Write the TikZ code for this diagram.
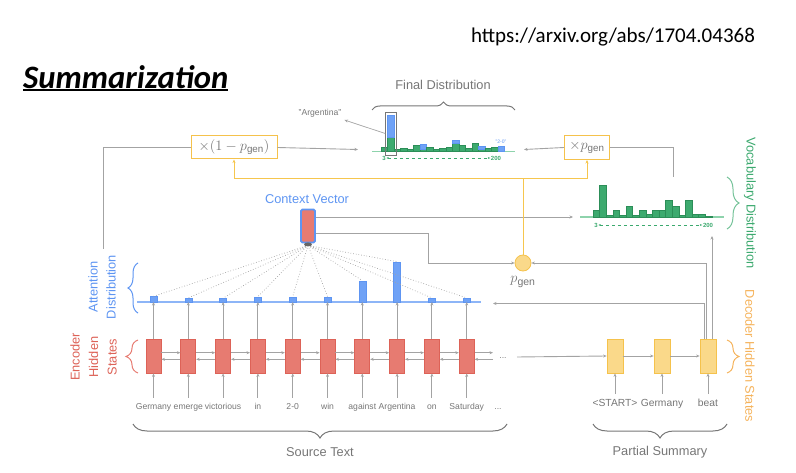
\documentclass[tikz,border=0pt]{standalone}
\usepackage{fontspec}
\setmainfont{Liberation Sans}
\newfontfamily\calfont{Carlito}
\usetikzlibrary{arrows.meta,decorations.pathreplacing,calc}
\definecolor{linegray}{HTML}{A3A3A3}
\definecolor{tgray}{HTML}{767676}
\definecolor{bluet}{HTML}{5E95F2}
\definecolor{bluebar}{HTML}{6FA2F6}
\definecolor{blueline}{HTML}{8DB5F7}
\definecolor{redfill}{HTML}{E77B71}
\definecolor{redborder}{HTML}{DD6257}
\definecolor{greenc}{HTML}{3BA96E}
\definecolor{greenbar}{HTML}{3DAA6F}
\definecolor{greenedge}{HTML}{2C8E58}
\definecolor{greenline}{HTML}{8ED3AC}
\definecolor{yfill}{HTML}{FAD98A}
\definecolor{yborder}{HTML}{F5C24C}
\definecolor{orangetxt}{HTML}{F5B35C}
\definecolor{oline}{HTML}{F6C64E}
\begin{document}
\begin{tikzpicture}[x=1pt,y=-1pt,
  conn/.style={draw=linegray, line width=0.9pt},
  arr/.style={conn, -{Stealth[length=3.5pt,width=3pt]}},
  oarr/.style={draw=oline, line width=1pt, -{Stealth[length=3.5pt,width=3pt]}},
  oconn/.style={draw=oline, line width=1pt},
  encbox/.style={draw=redborder, fill=redfill, minimum width=15pt, minimum height=34pt, inner sep=0pt, line width=0.8pt},
  decbox/.style={draw=yborder, fill=yfill, minimum width=16pt, minimum height=34pt, inner sep=0pt, line width=0.8pt},
  word/.style={text=tgray, font=\fontsize{8.6}{10}\selectfont, inner sep=0pt, text height=6.2pt, text depth=1.8pt},
  dword/.style={text=tgray, font=\fontsize{10.3}{12}\selectfont, inner sep=0pt, text height=7.4pt, text depth=2pt},
  lbl/.style={font=\fontsize{12.8}{14}\selectfont, inner sep=0pt},
  brc/.style={decorate, decoration={brace, amplitude=#1}, line width=1pt},
  attbar/.style={fill=bluebar, draw=bluet, line width=0.4pt, minimum width=7pt, inner sep=0pt, anchor=south},
  axl/.style={text=greenc, font=\fontsize{6}{7}\selectfont\bfseries, inner sep=0.5pt},
  mbox/.style={draw=yborder, line width=1pt, fill=white, text=tgray, inner sep=0pt}
]
\useasboundingbox (0,0) rectangle (796,473);

% header
\node[font=\calfont\fontsize{21}{24}\selectfont, inner sep=0pt] (url) at (613,37) {https://arxiv.org/abs/1704.04368};
\node[font=\calfont\fontsize{32.7}{36}\selectfont\bfseries\itshape, inner sep=0pt, anchor=west] (title) at (23,77) {Summarization};
\draw[line width=1.3pt] (23,90) -- (228,90);

% ---------- encoder ----------
\foreach \i in {0,...,9} {
  \node[encbox] (e\i) at ({153.5+34.8*\i},356) {};
}
\foreach \w [count=\i from 0] in {Germany,emerge,victorious,in,2-0,win,against,Argentina,on,Saturday} {
  \node[word] (w\i) at ({153.5+34.8*\i},407) {\w};
  \draw[arr] ([yshift=5pt]w\i.north) -- (e\i.south);
}
\node[word] (wdots) at (498,407) {...};
\foreach \i [evaluate=\i as \j using int(\i+1)] in {0,...,8} {
  \draw[arr] ([yshift=3.3pt]e\i.east) -- ([yshift=3.3pt]e\j.west);
  \draw[arr] ([yshift=-3.3pt]e\j.west) -- ([yshift=-3.3pt]e\i.east);
}
\coordinate (encR1) at (493,352.7);
\coordinate (encR2) at (493,359.3);
\draw[arr] ([yshift=3.3pt]e9.east) -- (encR1);
\draw[arr] (encR2) -- ([yshift=-3.3pt]e9.east);
\node[word] (edots) at (503,356) {...};

% ---------- attention ----------
\draw[blueline, line width=1.2pt] (137,302) -- (481,302);
\foreach \h [count=\i from 0] in {5.3,3.7,3.3,5,5,5,21,40,3.7,3.7} {
  \node[attbar, minimum height=\h pt] (a\i) at ({153.5+34.8*\i},302) {};
  \draw[arr] (e\i.north) -- (a\i.south);
}

% ---------- context vector ----------
\node[draw=bluet, fill=redfill, line width=1.8pt, rounded corners=1.5pt, minimum width=14pt, minimum height=33pt, inner sep=0pt] (ctx) at (308,226) {};
\node[lbl, text=bluet] (ctxlbl) at (307,199) {Context Vector};
\foreach \i in {0,...,9} {
  \draw[linegray, dotted, line width=0.7pt] ([yshift=-2pt]ctx.south) -- (a\i.north);
}
\fill[gray!80!black] ([yshift=-1pt]ctx.south) ellipse (4pt and 2pt);

% ---------- decoder ----------
\node[decbox] (d0) at (615,356) {};
\node[decbox] (d1) at (662,356) {};
\node[decbox] (d2) at (708,356) {};
\node[dword] (dw0) at (615,404) {<START>};
\node[dword] (dw1) at (662,404) {Germany};
\node[dword] (dw2) at (708,404) {beat};
\foreach \i in {0,1,2} { \draw[arr] ([yshift=5pt]dw\i.north) -- (d\i.south); }
\coordinate (decin) at (517,357);
\draw[arr] (decin) -- (d0.west);
\draw[arr] (d0) -- (d1.west);
\draw[arr] (d1) -- (d2.west);

% ---------- p_gen ----------
\node[circle, draw=yborder, fill=yfill, line width=0.8pt, minimum size=16pt, inner sep=0pt] (pgen) at (523,263) {};
\node[text=tgray, font=\fontsize{15}{17}\selectfont, inner sep=0pt] (pgenlbl) at (523,282) {$p_{\mathrm{gen}}$};

% ---------- vocabulary distribution ----------
\draw[greenline, line width=1.2pt] (580,217) -- (724,217);
\foreach \h [count=\i from 0] in {7,32,2,7,2,11,2,7,3,7,7,17,11,2,17,3,3,1} {
  \fill[greenbar] ({593+6.6*\i},217) rectangle ++(6.6,-\h);
  \draw[greenedge, line width=0.4pt] ({593+6.6*\i},217) rectangle ++(6.6,-\h);
}
\node[axl] (v3) at (596,225) {3};
\node[axl] (v200) at (708,225) {200};
\draw[greenc, dashed, line width=0.8pt, {Stealth[length=2.5pt]}-{Stealth[length=2.5pt]}] (v3.east) -- (v200.west);
\coordinate (vocin) at (573,217);
\coordinate (vocbot) at (712,236);
\coordinate (voctop) at (673,177);

% ---------- final distribution ----------
\draw[greenline, line width=1.2pt] (372,151.7) -- (515,151.7);
\foreach \g/\b [count=\i from 0] in {4/0,14.7/22,2/0,3/0,2/0,6/0,2/5.4,4/0,2/0,3/0,4/0,8/3.7,6/0,3/0,8/0,2/3.7,3/0,4/0,0/5} {
  \pgfmathsetmacro{\xx}{381+6.5*\i}
  \ifdim\g pt>0pt
    \fill[greenbar] (\xx,151.7) rectangle ++(6.5,-\g);
    \draw[greenedge, line width=0.4pt] (\xx,151.7) rectangle ++(6.5,-\g);
  \fi
  \ifdim\b pt>0pt
    \fill[bluebar] (\xx,151.7-\g) rectangle ++(6.5,-\b);
    \draw[bluet, line width=0.4pt] (\xx,151.7-\g) rectangle ++(6.5,-\b);
  \fi
}
\node[draw=tgray, line width=0.6pt, minimum width=11pt, minimum height=43pt, inner sep=0pt] (argbox) at (391,133.5) {};
\node[text=tgray, font=\fontsize{8.6}{10}\selectfont, inner sep=0pt] (arglbl) at (320,113) {"Argentina"};
\draw[arr, line width=0.7pt] (argbox.west) -- ([xshift=3pt,yshift=-7pt]arglbl.east);
\node[text=bluet, font=\fontsize{5}{6}\selectfont, inner sep=0pt] (twozero) at (501,141.5) {"2-0"};
\node[axl] (f3) at (384,158) {3};
\node[axl] (f200) at (496,158) {200};
\draw[greenc, dashed, line width=0.8pt, {Stealth[length=2.5pt]}-{Stealth[length=2.5pt]}] (f3.east) -- (f200.west);
\node[lbl, text=tgray] (fdlbl) at (443,85) {Final Distribution};
\draw[brc=8pt, tgray] (372,110) -- (515,110);
\coordinate (fdin) at (358,149.5);
\coordinate (fdin2) at (524,149.5);

% ---------- mixing boxes ----------
\node[mbox, minimum width=86pt, minimum height=23pt, font=\fontsize{14}{16}\selectfont] (omp) at (234,147.5) {$\times(1-p_{\mathrm{gen}})$};
\node[mbox, minimum width=45pt, minimum height=24pt, font=\fontsize{14}{16}\selectfont] (xp) at (587,147.5) {$\times p_{\mathrm{gen}}$};

% connectors
\coordinate (attleft) at (103,249);
\draw[conn] (attleft) |- (omp.west);
\draw[arr] (omp.east) -- (fdin);
\draw[arr] (xp.west) -- (fdin2);
\draw[conn] (xp.east) -| (voctop);
\draw[arr] ([yshift=9pt]ctx.east) -- (vocin);
\draw[arr] ([yshift=-7pt]ctx.east) -- ++(113,0) |- (pgen.west);
\coordinate (oj) at (523,179);
\draw[oconn] (pgen.north) -- (oj);
\draw[oarr] (oj) -| (omp.south);
\draw[oarr] (oj) -| (xp.south);
\coordinate (attin) at (493,303.5);
\draw[arr] ([xshift=-4pt]d2.north) |- (attin);
\draw[arr] ([xshift=-2pt]d2.north) |- (pgen.east);
\draw[arr] ([xshift=4pt]d2.north) -- (vocbot);

% ---------- side labels and braces ----------
\node[lbl, text=bluet, rotate=90, align=center, font=\fontsize{12.8}{18}\selectfont] (attlbl) at (102,287) {Attention\\Distribution};
\draw[brc=10pt, bluet] (138,313) -- (138,263);
\node[lbl, text=redborder, rotate=90, align=center, font=\fontsize{12.8}{18.5}\selectfont] (enclbl) at (93.5,357) {Encoder\\Hidden\\States};
\draw[brc=12pt, redfill] (138,373) -- (138,340);
\node[lbl, text=greenc, rotate=-90] (voclbl) at (750,203) {Vocabulary Distribution};
\draw[brc=12pt, greenc!70] (727,177) -- (727,229);
\node[lbl, text=orangetxt, rotate=-90] (declbl) at (750,356) {Decoder Hidden States};
\draw[brc=12pt, orangetxt] (727,340) -- (727,373);

% bottom braces
\draw[brc=14pt, tgray] (507,424) -- (133,424);
\node[lbl, text=tgray] (srclbl) at (320,452) {Source Text};
\draw[brc=14pt, tgray] (727,424) -- (593,424);
\node[lbl, text=tgray] (partlbl) at (660,452) {Partial Summary};
\end{tikzpicture}
\end{document}
